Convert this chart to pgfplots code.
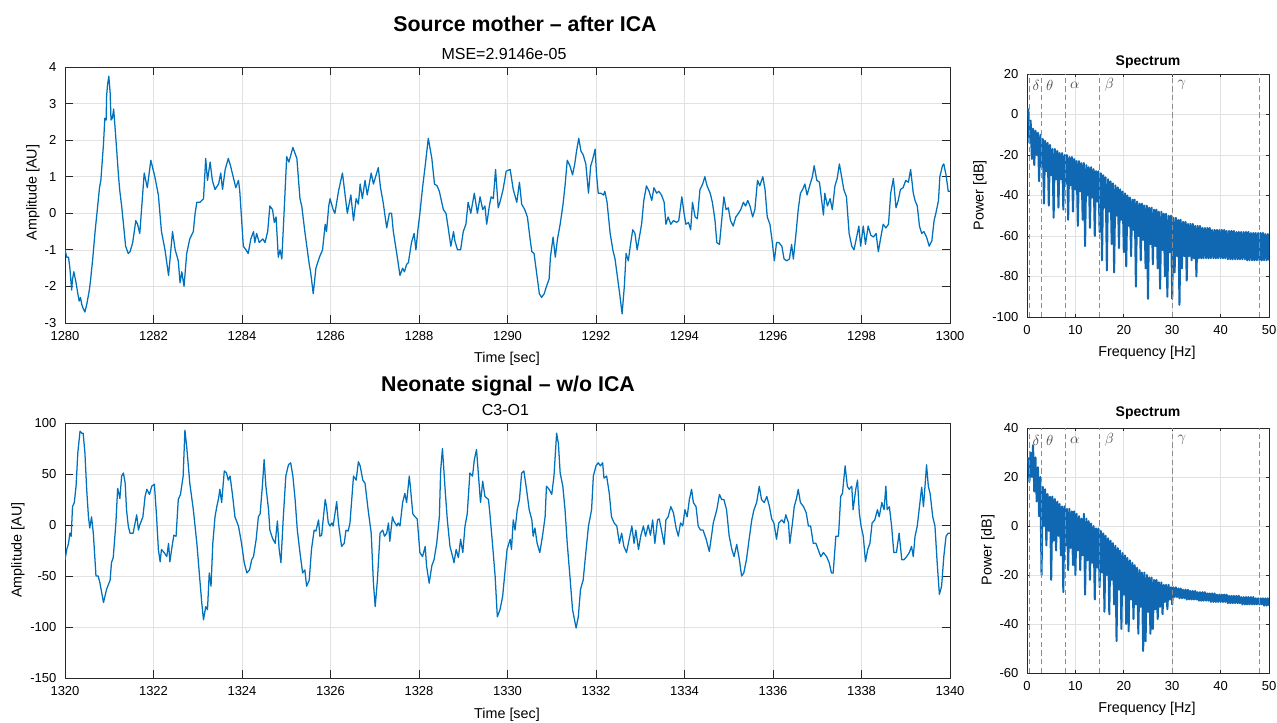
\documentclass[border=0pt]{standalone}
\usepackage{fontspec}
\setmainfont{Liberation Sans}
\usepackage{pgfplots}
\pgfplotsset{compat=1.18}
\definecolor{mblue}{RGB}{0,114,189}
\definecolor{sblue}{RGB}{16,104,178}
\definecolor{gridc}{RGB}{226,226,226}
\definecolor{axc}{RGB}{40,40,40}
\definecolor{dashc}{RGB}{140,140,140}
\definecolor{greekc}{RGB}{80,80,80}
\pgfplotsset{
  mat/.style={scale only axis, anchor=south west,
    axis line style={axc, line width=0.6pt},
    tick style={axc, line width=0.6pt},
    tick align=inside, tick pos=both,
    grid=major, major grid style={gridc, line width=0.5pt},
    tick label style={font=\fontsize{9.75}{11}\selectfont, text=black},
    /pgf/number format/assume math mode=true,
    /pgf/number format/1000 sep={},
    xticklabel style={yshift=-3pt},
    yticklabel style={xshift=-3pt}},
  spec/.style={mat, xmin=0, xmax=50, xtick={0,10,20,30,40,50}, major tick length=2pt},
  band/.style={dashc, line width=0.7pt, dash pattern=on 4pt off 2.5pt, forget plot},
}
\tikzset{greek/.style={greekc, font=\fontsize{11}{12}\selectfont}}
\newcommand{\lab}{\fontsize{10.75}{12}\selectfont}
\begin{document}
\begin{tikzpicture}
\useasboundingbox (0,0) rectangle (957.75pt,541.5pt);

% ---------------- top-left: source mother ----------------
\begin{axis}[mat, at={(48.75pt,299.25pt)}, width=663.75pt, height=192pt,
  xmin=1280, xmax=1300, ymin=-3, ymax=4,
  xtick={1280,1282,...,1300}, ytick={-3,-2,...,4}, major tick length=6pt]
\addplot[mblue, line width=0.95pt, line join=round] table {
1280.00 -1.0
1280.04 -1.2
1280.08 -1.2
1280.11 -1.5
1280.15 -2.1
1280.17 -1.8
1280.20 -1.6
1280.25 -1.9
1280.29 -2.2
1280.32 -2.4
1280.35 -2.3
1280.38 -2.5
1280.41 -2.6
1280.45 -2.7
1280.49 -2.5
1280.55 -2.1
1280.58 -1.8
1280.63 -1.2
1280.68 -0.5
1280.73 0.1
1280.78 0.7
1280.81 0.9
1280.87 1.9
1280.90 2.6
1280.93 2.55
1280.94 3.2
1280.96 3.5
1280.99 3.75
1281.02 3.3
1281.04 2.55
1281.07 2.6
1281.10 2.85
1281.14 2.2
1281.17 1.7
1281.21 1.0
1281.24 0.6
1281.28 0.2
1281.33 -0.4
1281.37 -0.9
1281.43 -1.1
1281.47 -1.05
1281.53 -0.8
1281.60 -0.2
1281.64 -0.3
1281.69 -0.55
1281.79 1.1
1281.86 0.7
1281.94 1.45
1282.03 1.0
1282.11 0.5
1282.18 -0.5
1282.26 -1.0
1282.34 -1.7
1282.43 -0.5
1282.49 -1.0
1282.56 -1.3
1282.60 -1.9
1282.64 -1.6
1282.69 -2.0
1282.75 -1.1
1282.82 -0.7
1282.90 -0.5
1282.94 0.0
1282.98 0.3
1283.05 0.3
1283.13 0.4
1283.18 1.5
1283.22 0.9
1283.28 1.4
1283.33 0.9
1283.39 0.65
1283.47 0.8
1283.52 1.1
1283.56 0.65
1283.62 1.2
1283.69 1.5
1283.74 1.3
1283.80 1.0
1283.86 0.7
1283.92 0.9
1283.95 0.6
1284.03 -0.9
1284.09 -1.0
1284.14 -1.1
1284.20 -0.7
1284.26 -0.5
1284.29 -0.8
1284.33 -0.55
1284.39 -0.8
1284.47 -0.7
1284.52 -0.8
1284.58 -0.5
1284.63 0.2
1284.69 0.1
1284.73 -0.25
1284.77 -0.1
1284.82 -1.2
1284.86 -1.0
1284.90 -1.25
1284.95 0.0
1285.01 1.55
1285.06 1.4
1285.15 1.8
1285.24 1.5
1285.31 0.4
1285.35 0.2
1285.42 -0.5
1285.52 -1.4
1285.55 -1.6
1285.61 -2.2
1285.67 -1.5
1285.75 -1.2
1285.82 -1.0
1285.88 -0.3
1285.91 -0.5
1285.96 0.2
1285.99 0.4
1286.06 0.1
1286.10 0.0
1286.18 0.6
1286.27 1.1
1286.33 0.5
1286.38 0.0
1286.46 0.5
1286.52 -0.2
1286.58 0.4
1286.63 0.25
1286.67 0.8
1286.72 0.4
1286.78 0.9
1286.83 0.5
1286.92 1.1
1286.97 0.8
1287.08 1.25
1287.13 0.7
1287.19 0.3
1287.27 -0.4
1287.33 0.0
1287.38 0.0
1287.42 -0.5
1287.51 -1.2
1287.57 -1.7
1287.63 -1.5
1287.67 -1.6
1287.72 -1.4
1287.76 -1.35
1287.83 -0.8
1287.89 -0.55
1287.93 -1.0
1287.98 -0.4
1288.02 0.0
1288.08 0.7
1288.14 1.3
1288.21 2.05
1288.29 1.5
1288.35 0.8
1288.41 0.75
1288.46 0.6
1288.55 0.1
1288.61 0.0
1288.66 -0.4
1288.72 -0.9
1288.78 -0.5
1288.81 -0.75
1288.87 -1.0
1288.94 -1.0
1289.00 -0.5
1289.06 -0.3
1289.11 0.3
1289.17 0.0
1289.25 0.55
1289.32 0.0
1289.38 0.45
1289.44 0.1
1289.49 0.2
1289.53 -0.3
1289.59 0.2
1289.63 0.45
1289.68 0.4
1289.73 1.2
1289.79 0.15
1289.84 0.35
1289.90 0.65
1289.97 1.15
1290.06 1.2
1290.13 0.65
1290.21 0.3
1290.27 0.85
1290.32 0.25
1290.39 0.1
1290.45 -0.1
1290.51 -0.7
1290.55 -1.05
1290.60 -1.1
1290.66 -1.65
1290.72 -2.2
1290.77 -2.3
1290.83 -2.2
1290.88 -2.0
1290.94 -1.8
1290.97 -1.2
1291.03 -0.65
1291.08 -1.2
1291.13 -0.7
1291.19 -0.3
1291.25 0.2
1291.30 0.75
1291.35 1.45
1291.41 1.3
1291.47 1.05
1291.52 1.35
1291.56 1.7
1291.61 2.05
1291.66 1.7
1291.71 1.6
1291.77 1.35
1291.83 0.55
1291.88 1.3
1291.92 1.45
1291.98 1.75
1292.01 1.1
1292.05 0.55
1292.11 0.55
1292.17 0.5
1292.20 0.6
1292.25 0.3
1292.32 -0.55
1292.38 -1.0
1292.43 -1.25
1292.48 -1.7
1292.54 -2.25
1292.59 -2.75
1292.64 -2.0
1292.68 -1.1
1292.73 -1.3
1292.78 -0.85
1292.83 -0.45
1292.88 -0.55
1292.93 -1.0
1292.98 -0.65
1293.03 -0.3
1293.08 0.35
1293.14 0.75
1293.20 0.6
1293.26 0.35
1293.31 0.7
1293.37 0.55
1293.42 0.6
1293.48 0.5
1293.54 0.3
1293.58 -0.3
1293.63 -0.1
1293.69 -0.3
1293.75 -0.2
1293.82 -0.25
1293.87 -0.2
1293.94 0.45
1293.99 0.0
1294.03 -0.3
1294.09 -0.25
1294.14 -0.45
1294.18 0.3
1294.24 -0.1
1294.29 -0.15
1294.35 0.65
1294.41 0.8
1294.46 1.0
1294.51 0.75
1294.58 0.55
1294.63 0.3
1294.69 -0.2
1294.73 -0.8
1294.79 -0.85
1294.84 -0.2
1294.89 0.45
1294.94 0.1
1294.99 0.15
1295.04 -0.2
1295.10 -0.35
1295.16 -0.1
1295.22 0.0
1295.27 0.1
1295.33 0.3
1295.38 0.2
1295.43 0.35
1295.48 0.2
1295.54 -0.1
1295.59 0.1
1295.65 0.9
1295.70 0.75
1295.77 1.0
1295.82 0.65
1295.87 -0.1
1295.93 -0.3
1295.98 -0.75
1296.03 -1.3
1296.08 -0.8
1296.13 -0.8
1296.20 -0.9
1296.25 -1.25
1296.31 -1.3
1296.37 -1.25
1296.42 -0.85
1296.46 -1.25
1296.52 -0.55
1296.57 0.1
1296.62 0.55
1296.67 0.65
1296.72 0.8
1296.77 0.5
1296.84 0.8
1296.89 1.0
1296.93 1.3
1296.99 0.9
1297.05 0.85
1297.10 0.35
1297.14 -0.05
1297.17 0.55
1297.23 0.2
1297.29 0.4
1297.34 0.1
1297.40 0.75
1297.45 0.95
1297.50 1.35
1297.55 1.0
1297.60 0.65
1297.66 0.45
1297.72 -0.55
1297.78 -0.9
1297.83 -1.0
1297.89 -0.65
1297.94 -0.35
1297.98 -0.9
1298.04 -0.35
1298.09 -0.85
1298.15 -0.35
1298.21 -0.6
1298.27 -0.65
1298.33 -0.55
1298.38 -1.05
1298.43 -0.7
1298.49 -0.3
1298.55 -0.4
1298.61 -0.3
1298.66 0.55
1298.72 0.95
1298.78 0.15
1298.83 0.35
1298.88 0.65
1298.94 0.7
1299.00 0.9
1299.06 0.85
1299.11 1.2
1299.17 0.55
1299.21 0.35
1299.26 0.2
1299.31 -0.35
1299.36 -0.55
1299.41 -0.5
1299.47 -0.65
1299.53 -0.9
1299.59 -0.75
1299.64 -0.2
1299.68 0.0
1299.74 0.35
1299.77 1.0
1299.83 1.3
1299.86 1.35
1299.91 1.05
1299.96 0.6
1300.00 0.6
};
\end{axis}

% ---------------- bottom-left: neonate ----------------
\begin{axis}[mat, at={(48.75pt,33pt)}, width=663.75pt, height=191.25pt,
  xmin=1320, xmax=1340, ymin=-150, ymax=100,
  xtick={1320,1322,...,1340}, ytick={-150,-100,...,100}, major tick length=6pt]
\addplot[mblue, line width=0.95pt, line join=round] table {
1320.00 -34
1320.04 -24
1320.08 -18
1320.11 -8
1320.14 -11
1320.17 18
1320.21 22
1320.25 38
1320.29 71
1320.34 92
1320.38 90
1320.41 90
1320.45 71
1320.49 35
1320.53 8
1320.56 -3
1320.60 8
1320.64 -8
1320.70 -50
1320.75 -50
1320.79 -57
1320.87 -76
1320.94 -63
1321.02 -54
1321.05 -37
1321.09 -32
1321.15 2
1321.19 36
1321.24 26
1321.28 48
1321.32 51
1321.36 41
1321.39 15
1321.43 -1
1321.47 -8
1321.54 -8
1321.62 10
1321.66 -5
1321.69 0
1321.76 8
1321.81 28
1321.85 35
1321.91 30
1321.96 38
1322.02 40
1322.07 8
1322.11 -24
1322.15 -36
1322.18 -24
1322.24 -27
1322.30 -31
1322.34 -18
1322.37 -36
1322.43 -18
1322.46 -10
1322.51 -11
1322.56 25
1322.61 30
1322.67 48
1322.71 93
1322.75 77
1322.82 41
1322.90 15
1322.98 -18
1323.04 -50
1323.09 -76
1323.13 -93
1323.18 -80
1323.22 -83
1323.26 -47
1323.30 -60
1323.34 -18
1323.39 8
1323.43 18
1323.47 26
1323.50 35
1323.54 22
1323.60 53
1323.65 51
1323.69 44
1323.73 48
1323.79 28
1323.84 8
1323.92 -1
1323.99 -18
1324.05 -37
1324.11 -47
1324.17 -44
1324.22 -34
1324.26 -31
1324.32 -14
1324.37 8
1324.41 11
1324.46 38
1324.50 64
1324.54 38
1324.60 15
1324.63 -5
1324.69 -13
1324.75 -18
1324.80 4
1324.84 -24
1324.88 -37
1324.93 5
1324.99 48
1325.05 59
1325.10 61
1325.15 48
1325.20 25
1325.25 -5
1325.31 -27
1325.37 -47
1325.42 -44
1325.46 -60
1325.52 -54
1325.57 -24
1325.63 -5
1325.67 -6
1325.73 5
1325.76 -11
1325.80 -10
1325.84 8
1325.88 25
1325.91 18
1325.95 2
1325.99 -1
1326.03 2
1326.06 -1
1326.14 23
1326.18 2
1326.25 -21
1326.31 -18
1326.35 -5
1326.40 -6
1326.44 2
1326.52 48
1326.58 44
1326.63 62
1326.67 58
1326.73 44
1326.78 41
1326.85 15
1326.92 -8
1326.97 -57
1327.01 -80
1327.06 -54
1327.12 -8
1327.18 -5
1327.22 -11
1327.27 -8
1327.31 2
1327.34 -16
1327.40 8
1327.43 4
1327.50 -1
1327.53 2
1327.57 -1
1327.63 22
1327.68 31
1327.72 22
1327.78 48
1327.81 35
1327.86 11
1327.91 8
1327.96 6
1328.02 -27
1328.08 -31
1328.14 -21
1328.17 -40
1328.23 -57
1328.29 -40
1328.34 -34
1328.40 -18
1328.46 8
1328.49 54
1328.53 75
1328.59 35
1328.64 5
1328.70 -21
1328.76 -31
1328.79 -37
1328.84 -24
1328.89 -32
1328.94 -14
1328.99 -27
1329.04 -1
1329.09 11
1329.15 51
1329.21 48
1329.25 64
1329.30 74
1329.34 51
1329.39 22
1329.44 43
1329.49 28
1329.57 25
1329.60 12
1329.66 -18
1329.72 -50
1329.77 -90
1329.83 -83
1329.89 -70
1329.94 -47
1329.99 -24
1330.06 -14
1330.09 -24
1330.13 5
1330.17 -5
1330.22 15
1330.27 25
1330.32 51
1330.37 53
1330.43 35
1330.49 15
1330.55 5
1330.58 -11
1330.62 -3
1330.67 -18
1330.73 -27
1330.79 -11
1330.85 8
1330.88 38
1330.94 35
1331.00 30
1331.05 48
1331.11 90
1331.15 80
1331.19 51
1331.25 38
1331.30 15
1331.35 -18
1331.41 -50
1331.47 -83
1331.55 -101
1331.60 -90
1331.65 -63
1331.71 -54
1331.77 -27
1331.83 -1
1331.90 15
1331.94 48
1332.00 58
1332.05 61
1332.10 58
1332.15 61
1332.18 46
1332.24 48
1332.30 31
1332.35 8
1332.41 2
1332.47 -1
1332.53 -18
1332.58 -8
1332.63 -21
1332.69 -27
1332.75 -14
1332.81 -1
1332.86 -18
1332.90 -5
1332.96 -24
1333.01 -11
1333.07 -1
1333.12 -11
1333.18 0
1333.23 -10
1333.28 5
1333.33 -18
1333.39 5
1333.43 6
1333.48 -5
1333.54 -19
1333.58 5
1333.63 8
1333.69 18
1333.75 12
1333.81 -3
1333.86 -11
1333.91 2
1333.96 -1
1334.01 15
1334.06 8
1334.11 25
1334.16 35
1334.20 22
1334.26 18
1334.31 -1
1334.36 -5
1334.42 -5
1334.49 -14
1334.56 -26
1334.61 -11
1334.65 2
1334.73 15
1334.79 30
1334.84 25
1334.89 25
1334.95 15
1335.01 -11
1335.07 -24
1335.12 -31
1335.18 -19
1335.24 -34
1335.29 -50
1335.34 -47
1335.40 -34
1335.46 -14
1335.52 5
1335.57 15
1335.63 22
1335.69 38
1335.74 25
1335.80 22
1335.86 28
1335.92 18
1335.97 6
1336.02 2
1336.08 -14
1336.13 2
1336.20 5
1336.25 2
1336.29 10
1336.35 2
1336.38 -18
1336.44 2
1336.48 18
1336.53 26
1336.57 35
1336.62 22
1336.69 18
1336.75 12
1336.80 -1
1336.85 -1
1336.91 -18
1336.97 -18
1337.02 -24
1337.08 -31
1337.14 -27
1337.21 -31
1337.27 -37
1337.32 -47
1337.36 -47
1337.42 -11
1337.48 -11
1337.53 28
1337.57 31
1337.63 58
1337.68 38
1337.72 35
1337.78 38
1337.81 15
1337.87 35
1337.91 44
1337.95 12
1337.99 -1
1338.04 -11
1338.09 -36
1338.14 -24
1338.19 -18
1338.24 2
1338.30 5
1338.36 15
1338.40 8
1338.46 22
1338.51 15
1338.55 38
1338.58 15
1338.63 18
1338.68 -1
1338.73 -27
1338.79 -27
1338.85 -8
1338.91 -34
1338.96 -34
1339.02 -31
1339.08 -27
1339.13 -21
1339.17 -31
1339.21 -11
1339.26 -1
1339.31 18
1339.36 37
1339.40 18
1339.43 35
1339.47 59
1339.51 38
1339.55 31
1339.61 8
1339.66 -1
1339.71 -37
1339.76 -68
1339.81 -60
1339.86 -31
1339.91 -11
1339.96 -8
1340.00 -8
};
\end{axis}

% ---------------- top-right: spectrum ----------------
\begin{axis}[spec, at={(770.25pt,303.75pt)}, width=181.5pt, height=182.25pt,
  ymin=-100, ymax=20, ytick={-100,-80,...,20}]
\addplot[sblue, line width=1.5pt, line join=round] table {
0.25 3
0.5 -14
0.75 -3
1.0 -22
1.25 -7
1.5 -25
1.75 -8
2.0 -20
2.25 -9
2.5 -33
2.75 -10
3.0 -26
3.25 -12
3.5 -44
3.75 -13
4.0 -28
4.25 -14
4.5 -45
4.75 -15
5.0 -30
5.25 -17
5.5 -51
5.75 -17
6.0 -32
6.25 -18
6.5 -46
6.75 -19
7.0 -32
7.25 -19
7.5 -47
7.75 -20
8.0 -34
8.25 -20
8.5 -52
8.75 -21
9.0 -35
9.25 -21
9.5 -48
9.75 -22
10.0 -37
10.25 -23
10.5 -55
10.75 -23
11.0 -38
11.25 -24
11.5 -52
11.75 -24
12.0 -65
12.25 -25
12.5 -40
12.75 -26
13.0 -56
13.25 -26
13.5 -41
13.75 -27
14.0 -60
14.25 -28
14.5 -43
14.75 -28
15.0 -58
15.25 -29
15.5 -72
15.75 -30
16.0 -46
16.25 -31
16.5 -77
16.75 -32
17.0 -48
17.25 -33
17.5 -64
17.75 -34
18.0 -78
18.25 -35
18.5 -50
18.75 -36
19.0 -66
19.25 -37
19.5 -52
19.75 -38
20.0 -68
20.25 -39
20.5 -75
20.75 -40
21.0 -55
21.25 -41
21.5 -70
21.75 -42
22.0 -57
22.25 -42
22.5 -85
22.75 -43
23.0 -60
23.25 -44
23.5 -72
23.75 -44
24.0 -62
24.25 -45
24.5 -76
24.75 -45
25.0 -91
25.25 -46
25.5 -64
25.75 -46
26.0 -74
26.25 -47
26.5 -65
26.75 -47
27.0 -76
27.25 -48
27.5 -86
27.75 -48
28.0 -67
28.25 -49
28.5 -80
28.75 -49
29.0 -90
29.25 -50
29.5 -68
29.75 -50
30.0 -91
30.25 -51
30.5 -78
30.75 -51
31.0 -70
31.25 -52
31.5 -94
31.75 -52
32.0 -76
32.25 -53
32.5 -70
32.75 -53
33.0 -82
33.25 -54
33.5 -70
33.75 -54
34.0 -72
34.25 -54
34.5 -71
34.75 -55
35.0 -80
35.25 -55
35.5 -71
35.75 -55
36.0 -71
36.25 -56
36.5 -71
36.75 -56
37.0 -71
37.25 -56
37.5 -71
37.75 -56
38.0 -71
38.25 -57
38.5 -71
38.75 -57
39.0 -71
39.25 -57
39.5 -71
39.75 -57
40.0 -71
40.25 -57
40.5 -71
40.75 -57
41.0 -71
41.25 -57.5
41.5 -71.5
41.75 -57.5
42.0 -71.5
42.25 -57.5
42.5 -71.5
42.75 -57.5
43.0 -71.5
43.25 -58
43.5 -71.5
43.75 -58
44.0 -71.5
44.25 -58
44.5 -71.5
44.75 -58
45.0 -71.5
45.25 -58
45.5 -72
45.75 -58
46.0 -72
46.25 -58.5
46.5 -72
46.75 -58.5
47.0 -72
47.25 -58.5
47.5 -72
47.75 -58.5
48.0 -72
48.25 -58.5
48.5 -72
48.75 -58.5
49.0 -72
49.25 -59
49.5 -72
49.75 -59
50.0 -72
};
\addplot[band] coordinates {(0.5,-100) (0.5,20)};
\addplot[band] coordinates {(3,-100) (3,20)};
\addplot[band] coordinates {(8,-100) (8,20)};
\addplot[band] coordinates {(15,-100) (15,20)};
\addplot[band] coordinates {(30,-100) (30,20)};
\addplot[band] coordinates {(48,-100) (48,20)};
\node[greek] at (axis cs:1.9,14.5) {$\delta$};
\node[greek] at (axis cs:4.7,14.5) {$\theta$};
\node[greek] at (axis cs:9.9,14.5) {$\alpha$};
\node[greek] at (axis cs:17,14.5) {$\beta$};
\node[greek] at (axis cs:32,14.5) {$\gamma$};
\end{axis}

% ---------------- bottom-right: spectrum ----------------
\begin{axis}[spec, at={(770.25pt,36.75pt)}, width=181.5pt, height=183.75pt,
  ymin=-60, ymax=40, ytick={-60,-40,...,40}]
\addplot[sblue, line width=1.5pt, line join=round] table {
0.25 28
0.5 18
0.75 30
1.0 20
1.25 33
1.5 14
1.75 28
2.0 10
2.25 24
2.5 4
2.75 20
3.0 -20
3.25 16
3.5 0
3.75 15
4.0 -8
4.25 13
4.5 -2
4.75 12
5.0 -22
5.25 12
5.5 -6
5.75 11
6.0 -10
6.25 10
6.5 -4
6.75 9
7.0 -12
7.25 8
7.5 -27
7.75 8
8.0 -8
8.25 7
8.5 -18
8.75 7
9.0 -9
9.25 6
9.5 -16
9.75 6
10.0 -20
10.25 5
10.5 -10
10.75 4
11.0 -18
11.25 3
11.5 -12
11.75 5
12.0 -28
12.25 3
12.5 -14
12.75 2
13.0 -22
13.25 1
13.5 -15
13.75 0
14.0 -30
14.25 -1
14.5 -17
14.75 -1
15.0 -25
15.25 -2
15.5 -19
15.75 -3
16.0 -35
16.25 -4
16.5 -20
16.75 -5
17.0 -36
17.25 -6
17.5 -22
17.75 -7
18.0 -32
18.25 -8
18.5 -47
18.75 -9
19.0 -26
19.25 -10
19.5 -42
19.75 -11
20.0 -28
20.25 -12
20.5 -40
20.75 -13
21.0 -43
21.25 -14
21.5 -30
21.75 -15
22.0 -38
22.25 -16
22.5 -32
22.75 -17
23.0 -44
23.25 -18
23.5 -33
23.75 -19
24.0 -51
24.25 -19
24.5 -47
24.75 -20
25.0 -35
25.25 -21
25.5 -44
25.75 -21
26.0 -42
26.25 -22
26.5 -34
26.75 -22
27.0 -38
27.25 -23
27.5 -33
27.75 -23
28.0 -36
28.25 -24
28.5 -31
28.75 -24
29.0 -34
29.25 -24
29.5 -30
29.75 -25
30.0 -32
30.25 -25
30.5 -29
30.75 -25
31.0 -29
31.25 -25.5
31.5 -29.5
31.75 -25.5
32.0 -29.5
32.25 -26
32.5 -29.5
32.75 -26
33.0 -30
33.25 -26
33.5 -30
33.75 -26.5
34.0 -30
34.25 -26.5
34.5 -30
34.75 -26.5
35.0 -30
35.25 -27
35.5 -30.5
35.75 -27
36.0 -30.5
36.25 -27
36.5 -30.5
36.75 -27
37.0 -30.5
37.25 -27.5
37.5 -30.5
37.75 -27.5
38.0 -31
38.25 -27.5
38.5 -31
38.75 -27.5
39.0 -31
39.25 -28
39.5 -31
39.75 -28
40.0 -31
40.25 -28
40.5 -31
40.75 -28
41.0 -31
41.25 -28
41.5 -31.5
41.75 -28.5
42.0 -31.5
42.25 -28.5
42.5 -31.5
42.75 -28.5
43.0 -31.5
43.25 -28.5
43.5 -31.5
43.75 -28.5
44.0 -31.5
44.25 -29
44.5 -32
44.75 -29
45.0 -32
45.25 -29
45.5 -32
45.75 -29
46.0 -32
46.25 -29
46.5 -32
46.75 -29
47.0 -32
47.25 -29.5
47.5 -32
47.75 -29.5
48.0 -32
48.25 -29.5
48.5 -32
48.75 -29.5
49.0 -32.5
49.25 -29.5
49.5 -32.5
49.75 -29.5
50.0 -32.5
};
\addplot[band] coordinates {(0.5,-60) (0.5,40)};
\addplot[band] coordinates {(3,-60) (3,40)};
\addplot[band] coordinates {(8,-60) (8,40)};
\addplot[band] coordinates {(15,-60) (15,40)};
\addplot[band] coordinates {(30,-60) (30,40)};
\addplot[band] coordinates {(48,-60) (48,40)};
\node[greek] at (axis cs:1.9,35) {$\delta$};
\node[greek] at (axis cs:4.7,35) {$\theta$};
\node[greek] at (axis cs:9.9,35) {$\alpha$};
\node[greek] at (axis cs:17,35) {$\beta$};
\node[greek] at (axis cs:32,35) {$\gamma$};
\end{axis}

% ---------------- titles and labels ----------------
\node[anchor=base, font=\fontsize{16}{18}\selectfont\bfseries] at (393.75pt,517.7pt) {Source mother – after ICA};
\node[anchor=base, font=\fontsize{12}{14}\selectfont] at (378pt,496.5pt) {MSE=2.9146e-05};
\node[anchor=base, font=\fontsize{16}{18}\selectfont\bfseries] at (381pt,247.7pt) {Neonate signal – w/o ICA};
\node[anchor=base, font=\fontsize{12}{14}\selectfont] at (379pt,230.25pt) {C3-O1};
\node[anchor=base, font=\fontsize{10.5}{12}\selectfont\bfseries] at (861pt,492pt) {Spectrum};
\node[anchor=base, font=\fontsize{10.5}{12}\selectfont\bfseries] at (861pt,229.5pt) {Spectrum};
\node[anchor=base, font=\lab] at (380.25pt,269.25pt) {Time [sec]};
\node[anchor=base, font=\lab] at (380.25pt,3pt) {Time [sec]};
\node[anchor=base, font=\lab] at (860.25pt,273.75pt) {Frequency [Hz]};
\node[anchor=base, font=\lab] at (860.25pt,7.5pt) {Frequency [Hz]};
\node[rotate=90, font=\lab] at (24.75pt,397pt) {Amplitude [AU]};
\node[rotate=90, font=\lab] at (13.5pt,129pt) {Amplitude [AU]};
\node[rotate=90, font=\lab] at (735pt,395pt) {Power [dB]};
\node[rotate=90, font=\lab] at (741pt,129pt) {Power [dB]};
\end{tikzpicture}
\end{document}
